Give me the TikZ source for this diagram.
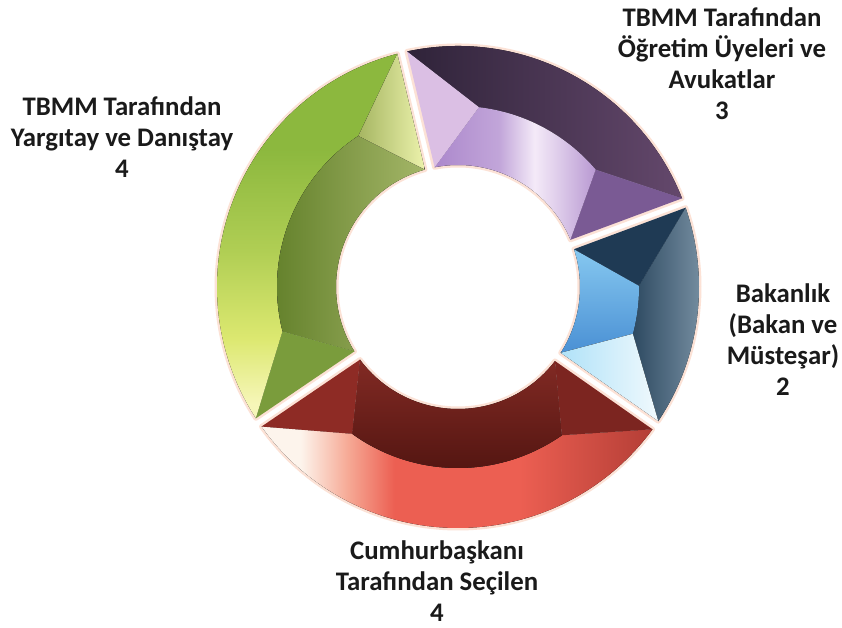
\documentclass[tikz,border=0pt]{standalone}
\usepackage{fontspec}
\setmainfont{Carlito}
\definecolor{glow}{RGB}{252,226,214}
\definecolor{txt}{RGB}{26,26,26}
% green
\definecolor{gA}{RGB}{166,182,98}
\definecolor{gB}{RGB}{236,242,172}
\definecolor{gOt}{RGB}{140,184,62}
\definecolor{gOm}{RGB}{176,206,84}
\definecolor{gOy}{RGB}{220,232,112}
\definecolor{gOb}{RGB}{246,246,184}
\definecolor{gIl}{RGB}{96,126,40}
\definecolor{gIr}{RGB}{164,182,104}
\definecolor{gE}{RGB}{122,156,60}
% purple
\definecolor{pS}{RGB}{122,90,148}
\definecolor{pOl}{RGB}{47,35,57}
\definecolor{pOr}{RGB}{100,72,108}
\definecolor{pIl}{RGB}{172,136,204}
\definecolor{pIm}{RGB}{244,234,248}
\definecolor{pIr}{RGB}{184,152,210}
\definecolor{pE}{RGB}{219,191,228}
% blue
\definecolor{bS}{RGB}{240,249,253}
\definecolor{bSl}{RGB}{176,226,248}
\definecolor{bOl}{RGB}{46,74,98}
\definecolor{bOr}{RGB}{126,150,168}
\definecolor{bIt}{RGB}{134,200,240}
\definecolor{bIb}{RGB}{74,144,212}
\definecolor{bE}{RGB}{31,58,84}
% red
\definecolor{rS}{RGB}{142,43,37}
\definecolor{rOl}{RGB}{253,244,236}
\definecolor{rOp}{RGB}{246,170,150}
\definecolor{rOm}{RGB}{236,95,82}
\definecolor{rOr}{RGB}{180,62,54}
\definecolor{rIt}{RGB}{130,42,36}
\definecolor{rIb}{RGB}{80,20,16}
\definecolor{rE}{RGB}{124,37,32}
\pgfdeclarehorizontalshading{redouter}{100bp}{color(0bp)=(rOl); color(30bp)=(rOl); color(36bp)=(rOp); color(42bp)=(rOm); color(58bp)=(rOm); color(75bp)=(rOr); color(100bp)=(rOr)}
\pgfdeclareverticalshading{greenouter}{100bp}{color(0bp)=(gOb); color(27bp)=(gOb); color(36bp)=(gOy); color(48bp)=(gOm); color(62bp)=(gOt); color(100bp)=(gOt)}
\pgfdeclarehorizontalshading{purpleinner}{100bp}{color(0bp)=(pIl); color(25bp)=(pIl); color(45bp)=(pIl!70!pIm); color(56bp)=(pIm); color(64bp)=(pIm!60!pIr); color(75bp)=(pIr); color(100bp)=(pIr)}
\tikzset{
  lbl/.style={font=\fontsize{26.8}{31}\selectfont\bfseries, text=txt, align=center, inner sep=0pt, anchor=base},
  halo/.style={draw=glow, line width=5pt, line join=round}
}
\newcommand\Ro{241}
\newcommand\Ri{122}
\newcommand\Rm{181}
\newcommand\Gp{5}
% #1 start angle, #2 end angle, #3 start-triangle fill, #4 outer face, #5 inner face, #6 end-triangle fill
\newcommand\ringseg[6]{%
  \begin{scope}[shift={(458,341)}]
    \pgfmathsetmacro\aO{#1+asin(\Gp/\Ro)}
    \pgfmathsetmacro\bO{#2-asin(\Gp/\Ro)}
    \pgfmathsetmacro\aI{#1+asin(\Gp/\Ri)}
    \pgfmathsetmacro\bI{#2-asin(\Gp/\Ri)}
    \pgfmathsetmacro\aM{#1+20}
    \pgfmathsetmacro\bM{#2-20}
    \coordinate (O1) at (\aO:\Ro);
    \coordinate (O2) at (\bO:\Ro);
    \coordinate (I1) at (\aI:\Ri);
    \coordinate (I2) at (\bI:\Ri);
    \coordinate (P1) at (\aM:\Rm);
    \coordinate (P2) at (\bM:\Rm);
    \draw[halo] (O1) arc[start angle=\aO, end angle=\bO, radius=\Ro] -- (I2)
      arc[start angle=\bI, end angle=\aI, radius=\Ri] -- cycle;
    \fill[#4] (O1) arc[start angle=\aO, end angle=\bO, radius=\Ro] -- (P2)
      arc[start angle=\bM, end angle=\aM, radius=\Rm] -- cycle;
    \fill[#5] (I1) -- (P1) arc[start angle=\aM, end angle=\bM, radius=\Rm] -- (I2)
      arc[start angle=\bI, end angle=\aI, radius=\Ri] -- cycle;
    \fill[#3] (O1) -- (I1) -- (P1) -- cycle;
    \fill[#6] (P2) -- (O2) -- (I2) -- cycle;
  \end{scope}}
\begin{document}
\begin{tikzpicture}[x=1pt,y=1pt]
  \path[use as bounding box, fill=white] (0,0) rectangle (842,628);
  % green
  \ringseg{103.4}{214.2}{left color=gA, right color=gB}
    {shading=greenouter}
    {left color=gIl, right color=gIr}
    {fill=gE}
  % red
  \ringseg{214.2}{325.0}{fill=rS}
    {shading=redouter}
    {top color=rIt, bottom color=rIb}
    {fill=rE}
  % blue
  \ringseg{-35.0}{20.4}{left color=bSl, right color=bS}
    {left color=bOl, right color=bOr}
    {top color=bIt, bottom color=bIb}
    {fill=bE}
  % purple
  \ringseg{20.4}{103.4}{fill=pS}
    {left color=pOl, right color=pOr}
    {shading=purpleinner}
    {fill=pE}
  % labels (anchor at baseline of last line)
  \node[lbl] (lg) at (122,450) {TBMM Tarafından\\Yargıtay ve Danıştay\\4};
  \node[lbl] (lp) at (722,508) {TBMM Tarafından\\Öğretim Üyeleri ve\\Avukatlar\\3};
  \node[lbl] (lb) at (783,232) {Bakanlık\\(Bakan ve\\Müsteşar)\\2};
  \node[lbl] (lr) at (437,6) {Cumhurbaşkanı\\Tarafından Seçilen\\4};
\end{tikzpicture}
\end{document}
